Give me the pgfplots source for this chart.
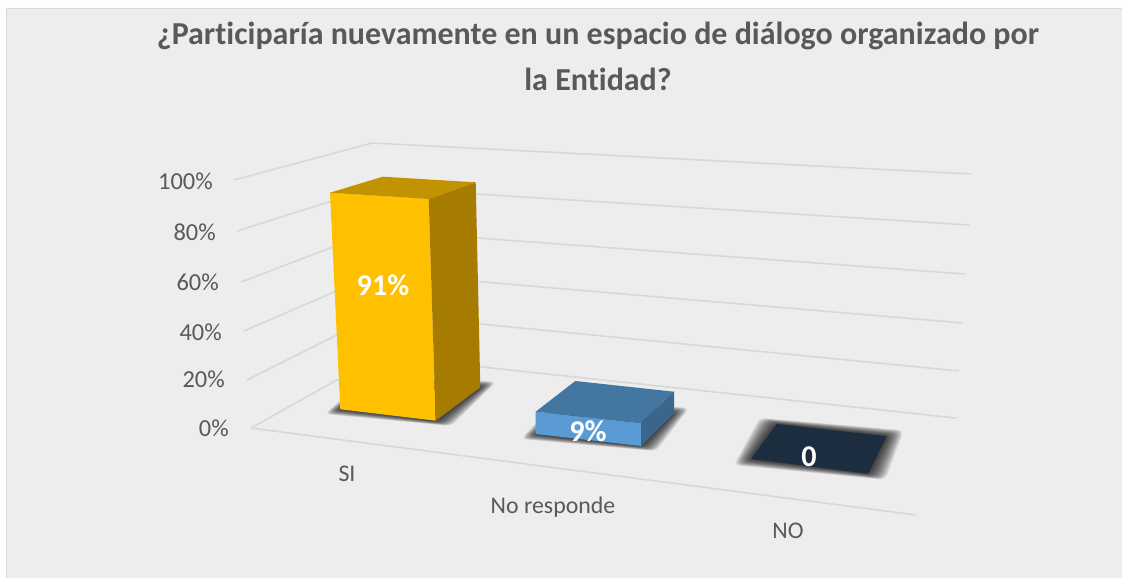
\documentclass[border=0pt]{standalone}
\usepackage{fontspec}
\setmainfont{Carlito}[Ligatures={NoCommon}]
\usepackage{pgfplots}
\pgfplotsset{compat=1.18}
\definecolor{outer}{HTML}{FEFEFE}
\definecolor{bgc}{HTML}{EDEDED}
\definecolor{frm}{HTML}{D9D9D9}
\definecolor{grd}{HTML}{D8D8D8}
\definecolor{txt}{HTML}{595959}
\definecolor{ffc000c}{HTML}{FFC000}
\definecolor{ffc000t}{HTML}{C29200}
\definecolor{ffc000s}{HTML}{A67C00}
\definecolor{blueF}{HTML}{5B9BD5}
\definecolor{blueT}{HTML}{4476A2}
\definecolor{blueS}{HTML}{3B658B}
\definecolor{navyT}{HTML}{1B2D3F}
\newcommand{\txtnode}[6]{\node[anchor=#1,text=#2,font=\fontsize{#3}{#3}\selectfont#4,inner sep=0pt] at (axis cs:#5) {#6};}
% soft shadow: nested quadrilaterals TL,TR,BR,BL grown by \sdx,\sdy
\newcommand{\layer}[8]{%
  \foreach \t in {1,0.9,0.8,0.7,0.6,0.5,0.4,0.3,0.2,0.1}{
    \pgfmathsetmacro\ax{#1-\t*\sdx}\pgfmathsetmacro\ay{#2-\t*\sdy}
    \pgfmathsetmacro\bx{#3+\t*\sdx}\pgfmathsetmacro\by{#4-\t*\sdy}
    \pgfmathsetmacro\cx{#5+\t*\sdx}\pgfmathsetmacro\cy{#6+\t*\sdy}
    \pgfmathsetmacro\ex{#7-\t*\sdx}\pgfmathsetmacro\ey{#8+\t*\sdy}
    \edef\temp{\noexpand\addplot[fill=black,fill opacity=0.11,draw=none,rounded corners=4pt] coordinates {(\ax,\ay) (\bx,\by) (\cx,\cy) (\ex,\ey)} --cycle;}
    \temp
  }}
\begin{document}
\begin{tikzpicture}
\begin{axis}[scale only axis,width=841.5pt,height=433.5pt,
  xmin=0,xmax=1122,ymin=0,ymax=578,y dir=reverse,hide axis,clip=true]
% background and frame
\addplot[fill=outer,draw=none] coordinates {(0,0) (1122,0) (1122,578) (0,578)} --cycle;
\addplot[fill=bgc,draw=none] coordinates {(6,8) (1122,8) (1122,578) (6,578)} --cycle;
\addplot[draw=frm,line width=1.2pt] coordinates {(6.5,578) (6.5,8.5) (1122,8.5)};
% gridlines: value levels 100,80,60,40,20,0
\addplot[draw=grd,line width=1.2pt] coordinates {(234,180) (372,143) (971,174)};
\addplot[draw=grd,line width=1.2pt] coordinates {(237,231) (374,187.6) (969,225)};
\addplot[draw=grd,line width=1.2pt] coordinates {(241,282) (376,230.5) (965,274)};
\addplot[draw=grd,line width=1.2pt] coordinates {(244,331) (378,273) (963,323)};
\addplot[draw=grd,line width=1.2pt] coordinates {(247,380) (379,314) (959,371)};
\addplot[draw=grd,line width=1.2pt] coordinates {(251,428) (380,356) (956,418)};
\addplot[draw=grd,line width=1.2pt] coordinates {(251,428) (916,515)};
% shadows
\def\sdx{15}\def\sdy{5}
\layer{386}{378}{481}{387}{436}{421}{340}{409}
\def\sdx{15}\def\sdy{5}
\layer{575}{403}{674}{413}{641}{446}{536}{434}
\def\sdx{17}\def\sdy{6}
\layer{776.7}{424}{886.7}{436.3}{868.3}{473.7}{751}{459}
% SI 91%
\addplot[fill=ffc000c,draw=none] coordinates {(330,192.7) (428.7,199) (435.7,420.7) (340.3,409.3)} --cycle;
\addplot[fill=ffc000t,draw=none] coordinates {(330,192.7) (382.7,176.7) (475.7,182.3) (428.7,199)} --cycle;
\addplot[fill=ffc000s,draw=none] coordinates {(428.7,199) (475.7,182.3) (480.3,387.3) (435.7,420.7)} --cycle;
% No responde 9%
\addplot[fill=blueF,draw=none] coordinates {(535.7,411.7) (641,423) (641,446) (535.7,434)} --cycle;
\addplot[fill=blueT,draw=none] coordinates {(535.7,411.7) (575.3,381) (674,391.7) (641,423)} --cycle;
\addplot[fill=blueS,draw=none] coordinates {(641,423) (674,391.7) (674,413.3) (641,446)} --cycle;
% NO 0
\addplot[fill=navyT,draw=none] coordinates {(776.7,424) (886.7,436.3) (868.3,473.7) (751,459)} --cycle;
% texts
\txtnode{base}{txt}{24}{\bfseries}{598,45}{¿Participaría nuevamente en un espacio de diálogo organizado por}
\txtnode{base}{txt}{24}{\bfseries}{598,90}{la Entidad?}
\txtnode{east}{txt}{18.3}{}{213,181}{100\%}
\txtnode{east}{txt}{18.3}{}{216,232}{80\%}
\txtnode{east}{txt}{18.3}{}{219,282}{60\%}
\txtnode{east}{txt}{18.3}{}{222,332}{40\%}
\txtnode{east}{txt}{18.3}{}{225,379}{20\%}
\txtnode{east}{txt}{18.3}{}{229,428}{0\%}
\txtnode{center}{txt}{17.9}{}{347,474}{SI}
\txtnode{center}{txt}{17.9}{}{553,507}{No responde}
\txtnode{center}{txt}{17.9}{}{788,531}{NO}
\txtnode{center}{white}{22.6}{\bfseries}{383,285}{91\%}
\txtnode{center}{white}{22.6}{\bfseries}{588,431}{9\%}
\txtnode{center}{white}{22.6}{\bfseries}{809,457}{0}
\end{axis}
\end{tikzpicture}
\end{document}
